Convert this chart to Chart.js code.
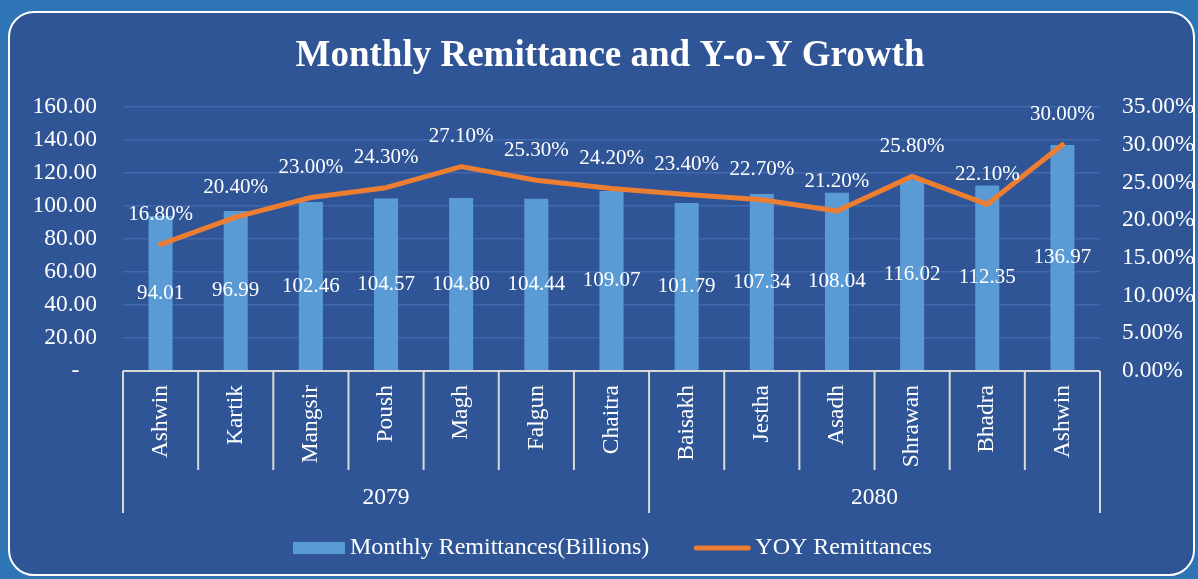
<!DOCTYPE html>
<html>
<head>
<meta charset="utf-8">
<script src="https://cdn.jsdelivr.net/npm/chart.js@4.4.0/dist/chart.umd.min.js"></script>
<style>
  html, body { margin: 0; padding: 0; background: #2E75B6; width: 1198px; height: 579px; overflow: hidden; }
  #panel { position: absolute; left: 8px; top: 11px; width: 1183px; height: 561px;
           background: #2F5597; border: 2px solid #FFFFFF; border-radius: 26px; }
  #chart { position: absolute; left: 0; top: 0; }
</style>
</head>
<body>
<div id="panel"></div>
<canvas id="chart" width="1198" height="579"></canvas>
<script>
// data
var months = ["Ashwin", "Kartik", "Mangsir", "Poush", "Magh", "Falgun", "Chaitra",
              "Baisakh", "Jestha", "Asadh", "Shrawan", "Bhadra", "Ashwin"];
var years = ["2079", "2080"];
var yearSpans = [7, 6];   // how many months fall under each year
var remittance = [94.01, 96.99, 102.46, 104.57, 104.80, 104.44, 109.07,
                  101.79, 107.34, 108.04, 116.02, 112.35, 136.97];
var yoy = [16.8, 20.4, 23.0, 24.3, 27.1, 25.3, 24.2, 23.4, 22.7, 21.2, 25.8, 22.1, 30.0];

var titleText = "Monthly Remittance and Y-o-Y Growth";
var barLabel = "Monthly Remittances(Billions)";
var lineLabel = "YOY Remittances";

var FONT = '"Liberation Serif", "Times New Roman", serif';
var WHITE = "#FFFFFF";
var AXIS = "#D9D9D9";
var BAR = "#5B9BD5";
var LINE = "#ED7D31";

Chart.defaults.font.family = FONT;
Chart.defaults.font.size = 23.5;
Chart.defaults.color = WHITE;

// draws title, value labels, the two-level category axis and the legend
var decorations = {
    id: "decorations",
    afterDatasetsDraw: function(chart) {
        var ctx = chart.ctx;
        ctx.save();
        ctx.font = "21px " + FONT;
        ctx.fillStyle = WHITE;
        ctx.textAlign = "center";
        ctx.textBaseline = "middle";
        var bars = chart.getDatasetMeta(0).data;
        bars.forEach(function(el, i) {
            ctx.fillText(remittance[i].toFixed(2), el.x, (el.y + el.base) / 2);
        });
        var pts = chart.getDatasetMeta(1).data;
        pts.forEach(function(el, i) {
            ctx.fillText(yoy[i].toFixed(2) + "%", el.x, el.y - 30);
        });
        ctx.restore();
    },
    afterDraw: function(chart) {
        var ctx = chart.ctx;
        var area = chart.chartArea;
        var x = chart.scales.x;
        var half = (x.getPixelForValue(1) - x.getPixelForValue(0)) / 2;
        ctx.save();

        // title
        ctx.fillStyle = WHITE;
        ctx.font = "bold 37px " + FONT;
        ctx.textAlign = "center";
        ctx.textBaseline = "alphabetic";
        ctx.fillText(titleText, 610, 66);

        // category axis line and separators
        ctx.strokeStyle = AXIS;
        ctx.lineWidth = 2;
        ctx.beginPath();
        ctx.moveTo(area.left, area.bottom);
        ctx.lineTo(area.right, area.bottom);
        var groupEdges = [0];
        var acc = 0;
        yearSpans.forEach(function(n) { acc += n; groupEdges.push(acc); });
        for (var i = 0; i <= months.length; i++) {
            var bx = x.getPixelForValue(i) - half;
            var isGroup = groupEdges.indexOf(i) >= 0;
            ctx.moveTo(bx, area.bottom);
            ctx.lineTo(bx, area.bottom + (isGroup ? 142 : 99));
        }
        ctx.stroke();

        // month labels, rotated
        ctx.font = "23.5px " + FONT;
        ctx.textAlign = "right";
        ctx.textBaseline = "middle";
        months.forEach(function(m, i) {
            ctx.save();
            ctx.translate(x.getPixelForValue(i), area.bottom + 14);
            ctx.rotate(-Math.PI / 2);
            ctx.fillText(m, 0, 0);
            ctx.restore();
        });

        // year labels
        ctx.textAlign = "center";
        years.forEach(function(y, k) {
            var a = x.getPixelForValue(groupEdges[k]) - half;
            var b = x.getPixelForValue(groupEdges[k + 1] - 1) + half;
            ctx.fillText(y, (a + b) / 2, area.bottom + 127);
        });

        // legend
        var ly = 548;
        var lx = 293;
        ctx.font = "24px " + FONT;
        ctx.textAlign = "left";
        ctx.fillStyle = BAR;
        ctx.fillRect(lx, ly - 6, 52, 12);
        ctx.fillStyle = WHITE;
        ctx.fillText(barLabel, lx + 57, ly);
        lx += 57 + ctx.measureText(barLabel).width + 45;
        ctx.strokeStyle = LINE;
        ctx.lineWidth = 5;
        ctx.lineCap = "round";
        ctx.beginPath();
        ctx.moveTo(lx + 2, ly);
        ctx.lineTo(lx + 54, ly);
        ctx.stroke();
        ctx.fillText(lineLabel, lx + 61, ly);

        ctx.restore();
    }
};

var chart = new Chart(document.getElementById("chart").getContext("2d"), {
    data: {
        labels: months,
        datasets: [{
            type: "bar",
            label: barLabel,
            data: remittance,
            backgroundColor: BAR,
            barPercentage: 0.32,
            categoryPercentage: 1,
            yAxisID: "y",
            order: 2
        }, {
            type: "line",
            label: lineLabel,
            data: yoy,
            borderColor: LINE,
            backgroundColor: LINE,
            borderWidth: 5,
            borderCapStyle: "round",
            borderJoinStyle: "round",
            pointRadius: 0,
            tension: 0,
            yAxisID: "y1",
            order: 1
        }]
    },
    options: {
        responsive: false,
        animation: false,
        devicePixelRatio: 1,
        layout: { padding: { top: 107, left: 0, right: 0, bottom: 0 } },
        plugins: {
            legend: { display: false },
            title: { display: false },
            tooltip: { enabled: false }
        },
        scales: {
            x: {
                offset: true,
                grid: { display: false },
                border: { display: false },
                ticks: { display: false },
                afterFit: function(s) { s.height = 208; }
            },
            y: {
                position: "left",
                min: 0,
                max: 160,
                ticks: {
                    stepSize: 20,
                    padding: 26,
                    color: WHITE,
                    callback: function(v) { return v === 0 ? "-   " : v.toFixed(2); }
                },
                grid: { color: "#4068AA", lineWidth: 1.5, drawTicks: false },
                border: { display: false },
                afterFit: function(s) { s.width = 123; }
            },
            y1: {
                position: "right",
                min: 0,
                max: 35,
                ticks: {
                    stepSize: 5,
                    padding: 22,
                    color: WHITE,
                    callback: function(v) { return v.toFixed(2) + "%"; }
                },
                grid: { display: false, drawTicks: false },
                border: { display: false },
                afterFit: function(s) { s.width = 98; }
            }
        }
    },
    plugins: [decorations]
});
</script>
</body>
</html>
